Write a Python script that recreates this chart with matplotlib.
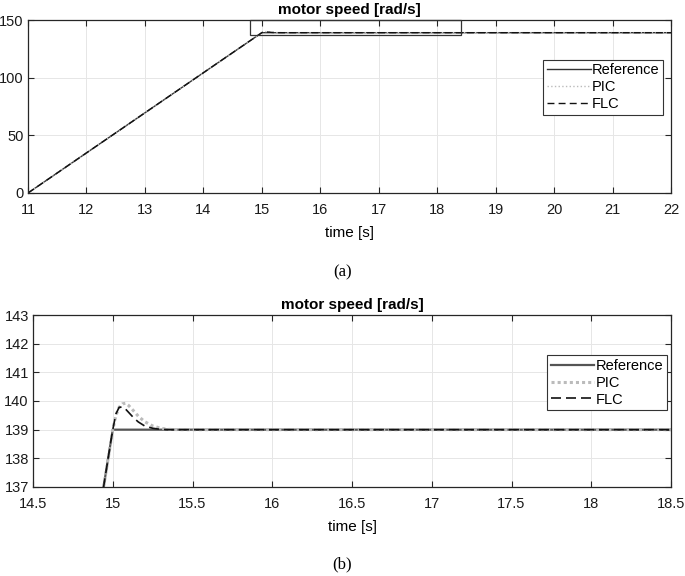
import matplotlib
matplotlib.use("Agg")
import matplotlib.pyplot as plt
from matplotlib.patches import Rectangle

plt.rcParams['font.family'] = ['Liberation Sans', 'DejaVu Sans']

# ---- data ----
t_ref = [11.0, 15.0, 22.0]
v_ref = [0.0, 139.0, 139.0]

t_flc = [11.0, 15.0, 15.02, 15.04, 15.06, 15.08, 15.10, 15.13, 15.16, 15.20, 15.25, 15.30, 15.35, 22.0]
v_flc = [0.0, 139.0, 139.55, 139.78, 139.79, 139.72, 139.60, 139.42, 139.27, 139.13, 139.05, 139.01, 139.0, 139.0]

t_pic = [11.0, 15.0, 15.02, 15.04, 15.06, 15.08, 15.10, 15.13, 15.16, 15.20, 15.25, 15.30, 15.35, 15.42, 22.0]
v_pic = [0.0, 139.0, 139.5, 139.78, 139.9, 139.92, 139.84, 139.66, 139.47, 139.28, 139.13, 139.05, 139.01, 139.0, 139.0]

xticks_a = [11, 12, 13, 14, 15, 16, 17, 18, 19, 20, 21, 22]
yticks_a = [0, 50, 100, 150]
xticks_b = [14.5, 15, 15.5, 16, 16.5, 17, 17.5, 18, 18.5]
xticklabels_b = ['14.5', '15', '15.5', '16', '16.5', '17', '17.5', '18', '18.5']
yticks_b = [137, 138, 139, 140, 141, 142, 143]

title = 'motor speed [rad/s]'
xlabel = 'time [s]'
labels = ['Reference', 'PIC', 'FLC']

fig = plt.figure(figsize=(6.85, 5.76), dpi=100)
W, H = 685, 576

def axes_px(l, r, t, b):
    return fig.add_axes([l / W, 1 - b / H, (r - l) / W, (b - t) / H])

ax1 = axes_px(28, 671, 20, 193)
ax2 = axes_px(33, 671, 315, 487)

def style(ax):
    ax.grid(True, color='#e6e6e6', linewidth=0.7)
    ax.set_axisbelow(True)
    for s in ax.spines.values():
        s.set_color('#262626')
        s.set_linewidth(0.9)
    ax.tick_params(direction='in', top=True, right=True, length=4,
                   width=0.8, color='#262626', labelsize=10.5,
                   labelcolor='#1a1a1a')
    ax.tick_params(axis='x', pad=7)
    ax.tick_params(axis='y', pad=3)
    ax.set_title(title, fontsize=11, fontweight='bold', pad=4)
    ax.set_xlabel(xlabel, fontsize=11, labelpad=7)

# (a)
ax1.plot(t_ref, v_ref, color='#333333', lw=1.0, ls='-', label=labels[0])
ax1.plot(t_pic, v_pic, color='#bbbbbb', lw=1.0, ls=':', label=labels[1])
ax1.plot(t_flc, v_flc, color='#111111', lw=1.0, ls=(0, (5, 3)), label=labels[2])
ax1.set_xlim(11, 22)
ax1.set_ylim(0, 150)
ax1.set_xticks(xticks_a)
ax1.set_yticks(yticks_a)
style(ax1)
ax1.add_patch(Rectangle((14.8, 137), 3.6, 13.3, fill=False, edgecolor='#333333',
                        lw=0.9, clip_on=False, zorder=5))
leg1 = ax1.legend(loc='upper right', bbox_to_anchor=(0.988, 0.77), fontsize=10.5,
                  handlelength=3.0, handletextpad=0.1, borderpad=0.25,
                  labelspacing=0.2, fancybox=False, framealpha=1,
                  edgecolor='#333333', borderaxespad=0)
leg1.get_frame().set_linewidth(0.8)

# (b)
ax2.plot(t_ref, v_ref, color='#555555', lw=1.6, ls='-', label=labels[0])
ax2.plot(t_pic, v_pic, color='#bbbbbb', lw=2.2, ls=(0, (1, 1)), label=labels[1])
ax2.plot(t_flc, v_flc, color='#111111', lw=1.2, ls=(0, (6, 3)), label=labels[2])
ax2.set_xlim(14.5, 18.5)
ax2.set_ylim(137, 143)
ax2.set_xticks(xticks_b)
ax2.set_xticklabels(xticklabels_b)
ax2.set_yticks(yticks_b)
style(ax2)
leg2 = ax2.legend(loc='upper right', bbox_to_anchor=(0.994, 0.767), fontsize=10.5,
                  handlelength=3.0, handletextpad=0.1, borderpad=0.25,
                  labelspacing=0.2, fancybox=False, framealpha=1,
                  edgecolor='#333333', borderaxespad=0)
leg2.get_frame().set_linewidth(0.8)

fig.text(0.5, 1 - 272 / H, '(a)', ha='center', va='center',
         family='Liberation Serif', fontsize=12)
fig.text(0.5, 1 - 564 / H, '(b)', ha='center', va='center',
         family='Liberation Serif', fontsize=12)

fig.savefig('out.png', dpi=100)
